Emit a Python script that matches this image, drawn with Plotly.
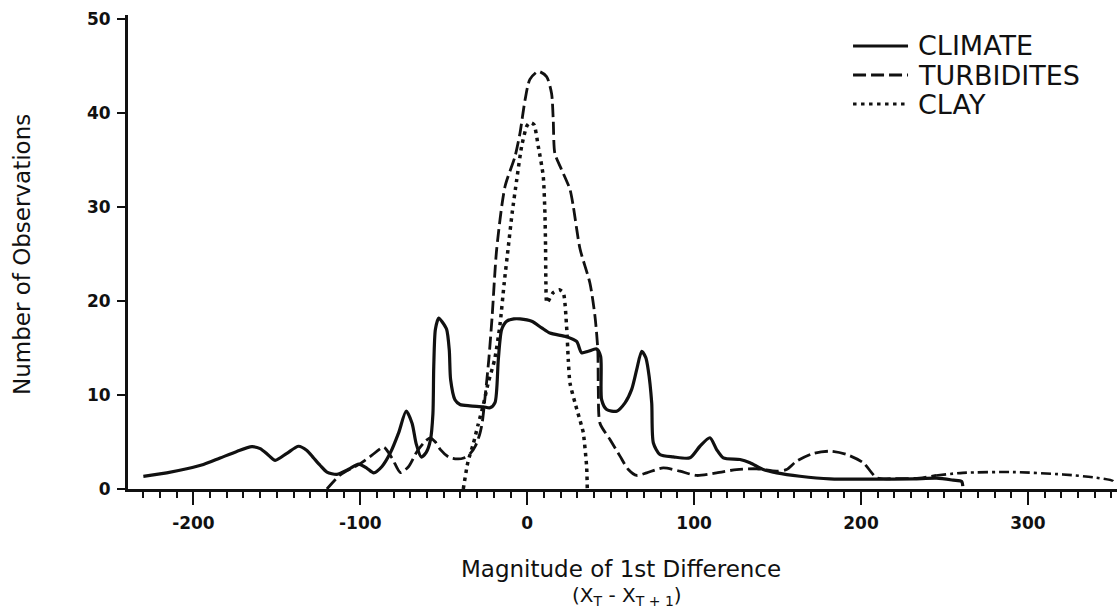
import plotly.graph_objects as go

# Frequency curves of first differences (x_T - x_T+1)
climate_x = [-230, -216, -204, -194, -184, -174, -165, -160, -155, -151, -144, -137, -132, -128,
             -124, -120, -114, -107, -101, -96, -92, -87, -82, -77, -72.5, -69, -66.5, -63.5,
             -60.5, -58, -56.5, -56, -55, -53, -51, -48.3, -46.7, -45.9, -43.3, -40.3, -34.3,
             -26.3, -22.3, -19.3, -17.3, -15.3, -12.3, -8, -4.3, 2.7, 8.7, 13.6, 23.6, 29.6,
             32.6, 36.6, 41.6, 44.0, 44.6, 47.6, 53.6, 58.6, 62.6, 65.6, 68.6, 71, 72.5, 74.6,
             75.6, 79.5, 87.5, 97.5, 103.5, 109.5, 113.5, 117.5, 127.5, 133.5, 141.4, 149.5,
             163.4, 181.4, 209.4, 231.3, 245.3, 255.3, 260.3, 261]
climate_y = [1.35, 1.72, 2.15, 2.6, 3.3, 4.0, 4.5, 4.3, 3.6, 3.05, 3.8, 4.55, 4.1, 3.3,
             2.5, 1.8, 1.55, 2.1, 2.65, 2.2, 1.72, 2.4, 3.85, 6.0, 8.3, 7.0, 4.8, 3.4,
             3.9, 5.2, 8.0, 13.0, 17.0, 18.2, 17.8, 17.0, 14.8, 11.65, 9.5, 9.0, 8.85,
             8.75, 8.64, 9.2, 13.8, 16.97, 17.85, 18.1, 18.1, 17.85, 17.15, 16.6, 16.2, 15.7,
             14.5, 14.66, 14.9, 14.1, 9.5, 8.46, 8.28, 9.17, 10.6, 12.7, 14.66, 14.0, 12.7, 9.17,
             4.9, 3.67, 3.42, 3.32, 4.55, 5.45, 4.2, 3.32, 3.14, 2.79, 2.07, 1.72,
             1.36, 1.08, 1.05, 1.08, 1.15, 0.94, 0.8, 0.3]

turbidites_x = [-120, -112, -100, -93, -86, -81, -76, -71, -66, -61, -58, -55, -52, -47, -42,
                -38, -34, -31, -28.5, -27, -25, -23, -21, -18.3, -13.3, -7.3, -4.3, -1.3, 1.6,
                6.6, 11.6, 14.6, 15.6, 16.6, 20.6, 25.6, 27.6, 31.6, 37.6, 40.6, 42.3, 42.6,
                43.6, 49.6, 55.6, 60.6, 65.6, 71.6, 81.5, 91.5, 101.5, 113.5, 125.5, 137.5,
                149.5, 155.4, 161.4, 171.4, 181.4, 191.4, 201.4, 209.4, 220, 235, 245, 261,
                291, 321, 341, 351, 352]
turbidites_y = [0, 1.5, 2.7, 3.6, 4.45, 3.3, 1.75, 2.4, 4.0, 5.1, 5.45, 5.0, 4.2, 3.4, 3.2,
                3.3, 3.8, 4.6, 5.8, 7.0, 10.2, 13.8, 18.4, 25.5, 32.2, 35.4, 37.9, 41.4, 43.6,
                44.45, 43.9, 42.1, 39.3, 35.7, 34.0, 31.9, 30.1, 25.6, 21.9, 18.4, 14.8, 10.6,
                7.0, 5.27, 3.5, 2.07, 1.44, 1.72, 2.25, 1.9, 1.44, 1.72, 2.07, 2.15,
                1.9, 2.07, 2.96, 3.78, 4.02, 3.67, 2.79, 1.2, 1.1, 1.15, 1.44, 1.72,
                1.8, 1.55, 1.2, 0.85, 0.45]

clay_x = [-38.3, -35.5, -32.3, -29.5, -26.5, -23.5, -19.5, -16.3, -13.8, -11.5, -9.0, -6.3,
          -3.3, -0.3, 1.6, 4.0, 6.6, 9.6, 10.6, 11.0, 11.2, 11.8, 15.6, 19.2, 21.6, 23.6,
          24.6, 25.6, 28.6, 32.6, 33.6, 35.6, 36.0]
clay_y = [0, 2.9, 4.8, 6.8, 8.8, 11.2, 13.8, 17.5, 21.9, 25.5, 29.4, 32.9,
          36.5, 38.6, 39.0, 38.8, 36.5, 33.3, 29.4, 25.8, 21.9, 19.8, 20.9, 21.2, 20.9, 17.3,
          13.8, 11.3, 9.2, 6.7, 6.0, 2.4, 0]

series_names = ["CLIMATE", "TURBIDITES", "CLAY"]
x_tick_values = [-200, -100, 0, 100, 200, 300]
x_tick_labels = ["-200", "-100", "0", "100", "200", "300"]
y_tick_values = [0, 10, 20, 30, 40, 50]

# the far tail of the turbidite curve is drawn dash-dot
TAIL_FROM = 245

INK = "#111111"
SOLID = "solid"
DASHED = "13px,5px"
DOTTED = "3.5px,4.5px"
DASHDOT = "10px,4px,3px,4px"

fig = go.Figure()

fig.add_trace(go.Scatter(
    x=climate_x, y=climate_y, mode="lines", name=series_names[0],
    line=dict(color=INK, width=3.2, dash=SOLID, shape="spline", smoothing=0.7),
))

main_x = [x for x in turbidites_x if x <= TAIL_FROM]
main_y = turbidites_y[:len(main_x)]
tail_x = turbidites_x[len(main_x) - 1:]
tail_y = turbidites_y[len(main_x) - 1:]
fig.add_trace(go.Scatter(
    x=main_x, y=main_y, mode="lines", name=series_names[1],
    line=dict(color=INK, width=2.8, dash=DASHED, shape="spline", smoothing=0.7),
))
fig.add_trace(go.Scatter(
    x=tail_x, y=tail_y, mode="lines", name=series_names[1], showlegend=False,
    line=dict(color=INK, width=2.6, dash=DASHDOT, shape="spline", smoothing=0.7),
))

fig.add_trace(go.Scatter(
    x=clay_x, y=clay_y, mode="lines", name=series_names[2],
    line=dict(color=INK, width=3.5, dash=DOTTED, shape="spline", smoothing=0.6),
))

# hand-drawn style key in the upper right corner
key_styles = [SOLID, DASHED, DOTTED]
key_rows = [0.9346, 0.8734, 0.8122]
for name, dash, yr in zip(series_names, key_styles, key_rows):
    fig.add_shape(type="line", xref="paper", yref="paper",
                  x0=0.7331, x1=0.7887, y0=yr, y1=yr,
                  line=dict(color=INK, width=2.8, dash=dash))
    fig.add_annotation(text=name, xref="paper", yref="paper", x=0.7968, y=yr,
                       xanchor="left", yanchor="middle", showarrow=False,
                       font=dict(family="DejaVu Sans", size=27, color=INK))

title_font = dict(family="DejaVu Sans", size=23, color=INK)
fig.add_annotation(text="Number of Observations", xref="paper", yref="paper",
                   x=-0.107, y=0.494, textangle=-90, showarrow=False,
                   xanchor="center", yanchor="middle", font=title_font)
fig.add_annotation(text="Magnitude of 1st Difference", xref="paper", yref="paper",
                   x=0.4985, y=-0.1690, showarrow=False,
                   xanchor="center", yanchor="middle", font=title_font)
fig.add_annotation(text="(X<sub>T</sub> - X<sub>T + 1</sub>)", xref="paper", yref="paper",
                   x=0.5045, y=-0.2260, showarrow=False,
                   xanchor="center", yanchor="middle",
                   font=dict(family="DejaVu Sans", size=20, color=INK))

tick_font = dict(family="DejaVu Sans", size=17, color=INK, weight="bold")

fig.update_xaxes(
    range=[-239.2, 353.4], showgrid=False, zeroline=False,
    showline=True, linecolor=INK, linewidth=3,
    ticks="outside", tickvals=x_tick_values, ticktext=x_tick_labels,
    ticklen=13, tickwidth=2, tickcolor=INK, tickfont=tick_font,
    ticklabelstandoff=4,
    minor=dict(ticks="outside", dtick=10, tick0=0, ticklen=6, tickwidth=2, tickcolor=INK),
)
fig.update_yaxes(
    range=[0, 50.45], showgrid=False, zeroline=False,
    showline=True, linecolor=INK, linewidth=3,
    ticks="outside", tickvals=y_tick_values, ticklen=8, tickwidth=2,
    tickcolor=INK, tickfont=tick_font, ticklabelstandoff=3,
)

fig.update_layout(
    width=1117, height=611, autosize=False,
    margin=dict(l=128, r=0, t=15, b=122),
    paper_bgcolor="white", plot_bgcolor="white",
    showlegend=False,
)

fig.write_html("out.html")
